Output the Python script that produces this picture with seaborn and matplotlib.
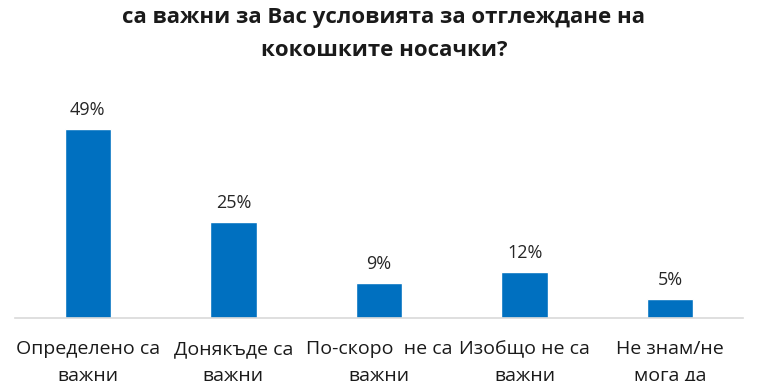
import matplotlib
matplotlib.use('Agg')
import matplotlib.pyplot as plt
import seaborn as sns
import pandas as pd

# Данни от графиката
categorias = ['Определено са\nважни', 'Донякъде са\nважни', 'По-скоро  не са\nважни',
              'Изобщо не са\nважни', 'Не знам/не\nмога да']
valores = [49, 25, 9, 12, 5]
etiquetas = ['49%', '25%', '9%', '12%', '5%']
titulo = 'са важни за Вас условията за отглеждане на\nкокошките носачки?'

sns.set_style('white')
plt.rcParams['font.family'] = ['Open Sans', 'DejaVu Sans']

df = pd.DataFrame({'cat': categorias, 'val': valores})

fig = plt.figure(figsize=(7.68, 3.81), dpi=100)
ax = fig.add_axes([15 / 768, 63 / 381, 728 / 768, 212 / 381])

sns.barplot(data=df, x='cat', y='val', color='#0070C0', width=0.32, ax=ax,
            saturation=1)

# etiquetas de valor encima de cada barra
for i, (v, t) in enumerate(zip(valores, etiquetas)):
    ax.text(i, v + 2.6, t, ha='center', va='bottom', fontsize=13, color='#262626')

ax.set_ylim(0, 55)
ax.set_xlim(-0.5, 4.5)
ax.set_xlabel('')
ax.set_ylabel('')
ax.set_yticks([])
ax.tick_params(axis='x', length=0, pad=16, labelsize=14, labelcolor='#1a1a1a')
for lbl in ax.get_xticklabels():
    lbl.set_linespacing(1.6)
    lbl.set_va('top')
for s in ['top', 'left', 'right']:
    ax.spines[s].set_visible(False)
ax.spines['bottom'].set_color('#d9d9d9')
ax.spines['bottom'].set_linewidth(1.2)

fig.text(0.5, 1 - 7 / 381, titulo, ha='center', va='top', fontsize=16,
         fontweight='bold', linespacing=1.75, color='#1a1a1a')

fig.savefig('out.png', dpi=100)
